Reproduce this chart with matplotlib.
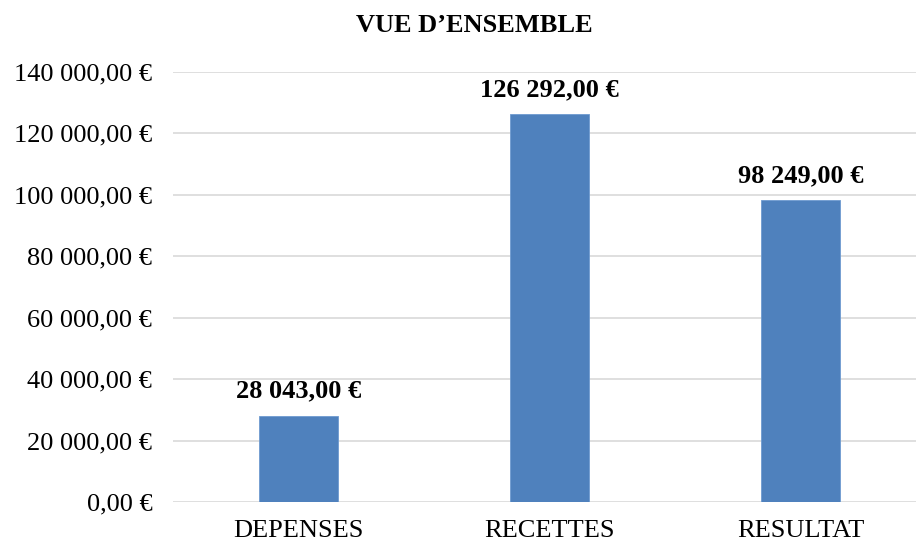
import matplotlib
matplotlib.use("Agg")
import matplotlib.pyplot as plt
from matplotlib.ticker import FuncFormatter

categories = ["DEPENSES", "RECETTES", "RESULTAT"]
values = [28043.00, 126292.00, 98249.00]
yticks = [0, 20000, 40000, 60000, 80000, 100000, 120000, 140000]

plt.rcParams['font.family'] = ['Liberation Serif', 'DejaVu Serif']

def fmt_eur(v, pos=None):
    s = f"{v:,.2f}".replace(",", " ").replace(".", ",")
    return s + " €"

fig = plt.figure(figsize=(9.16, 5.45), dpi=100)
ax = fig.add_axes([173/916, 1-502/545, (916-173)/916, (502-72)/545])

x = list(range(len(categories)))
bars = ax.bar(x, values, width=0.315, color="#4F81BD", edgecolor="#6E9BD0", linewidth=0.6, zorder=3)

ax.set_xlim(-0.5, -0.5 + (916-173)/251)
ax.set_ylim(0, 140000)
ax.set_yticks(yticks)
ax.yaxis.set_major_formatter(FuncFormatter(fmt_eur))
ax.set_xticks(x)
ax.set_xticklabels(categories)
ax.grid(axis="y", color="#D9D9D9", linewidth=1.2, zorder=0)
for s in ax.spines.values():
    s.set_visible(False)
ax.tick_params(axis="both", length=0, labelsize=19, colors="#000000")
ax.tick_params(axis="y", pad=15)
ax.tick_params(axis="x", pad=13)

for xi, v in zip(x, values):
    ax.annotate(fmt_eur(v), (xi, v), xytext=(0, 9.5), textcoords="offset points",
                ha="center", va="bottom", fontsize=19, fontweight="bold")

fig.text(474/916, 1-25/545, "VUE D’ENSEMBLE", ha="center", va="center",
         fontsize=19, fontweight="bold")

fig.savefig("out.png", dpi=100)
